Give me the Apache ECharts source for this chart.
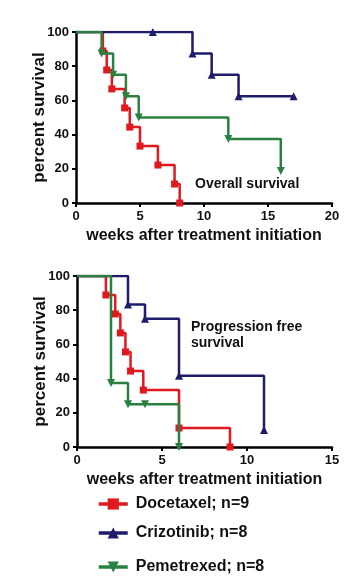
<!DOCTYPE html>
<html>
<head>
<meta charset="utf-8">
<script src="https://cdn.jsdelivr.net/npm/echarts@6/dist/echarts.min.js"></script>
<style>
html,body{margin:0;padding:0;background:#fff;}
#chart{width:350px;height:582px;}
</style>
</head>
<body>
<div id="chart"></div>
<script>
// ---- Data ----
const seriesNames = ['Docetaxel; n=9', 'Crizotinib; n=8', 'Pemetrexed; n=8'];

// Overall survival (top panel)
const osDocetaxelWeeks = [0, 2.1, 2.4, 2.8, 3.8, 4.2, 5.0, 6.4, 7.7, 8.1];
const osDocetaxelPct   = [100, 88.9, 77.8, 66.7, 55.6, 44.4, 33.3, 22.2, 11.1, 0];
const osCrizotinibWeeks = [0, 6.0, 9.1, 10.6, 12.7, 17.0];
const osCrizotinibPct   = [100, 100, 87.5, 75, 62.5, 62.5];
const osPemetrexedWeeks = [0, 2.0, 2.9, 3.9, 4.9, 11.9, 16.0];
const osPemetrexedPct   = [100, 87.5, 75, 62.5, 50, 37.5, 18.75];

// Progression free survival (bottom panel)
const pfsDocetaxelWeeks = [0, 1.7, 2.25, 2.55, 2.85, 3.15, 3.9, 6.0, 9.0];
const pfsDocetaxelPct   = [100, 88.9, 77.8, 66.7, 55.6, 44.4, 33.3, 11.1, 0];
const pfsCrizotinibWeeks = [0, 3.0, 4.0, 6.0, 11.0];
const pfsCrizotinibPct   = [100, 83.3, 75, 41.7, 10];
const pfsPemetrexedWeeks = [0, 2.0, 3.0, 4.0, 6.0];
const pfsPemetrexedPct   = [100, 37.5, 25, 25, 0];

const yTicks = [0, 20, 40, 60, 80, 100];

// ---- Styles ----
const FONT = '"Liberation Sans", Arial, sans-serif';
const colors = ['#e0181f', '#1f1c6b', '#2a8040'];
const symbols = ['rect', 'triangle', 'triangle'];
const symbolRot = [0, 0, 180];
const symbolSizes = [7, 8, 8];

function pts(xs, ys) {
  return xs.map((x, i) => {
    const d = { value: [x, ys[i]] };
    if (i === 0) d.symbol = 'none';
    return d;
  });
}

function mkSeries(idx, xs, ys, gridIdx) {
  return {
    name: seriesNames[idx],
    type: 'line',
    step: 'end',
    xAxisIndex: gridIdx,
    yAxisIndex: gridIdx,
    data: pts(xs, ys),
    symbol: symbols[idx],
    symbolRotate: symbolRot[idx],
    symbolSize: symbolSizes[idx],
    showAllSymbol: true,
    lineStyle: { color: colors[idx], width: 2.5 },
    itemStyle: { color: colors[idx] },
    animation: false,
    z: 2 + idx
  };
}

function xAxis(gridIdx, max) {
  return {
    type: 'value', gridIndex: gridIdx, min: 0, max: max, interval: 5,
    name: 'weeks after treatment initiation',
    nameLocation: 'middle', nameGap: 25, nameMoveOverlap: false,
    nameTextStyle: { fontFamily: FONT, fontWeight: 'bold', fontSize: 16, color: '#111' },
    axisLine: { lineStyle: { color: '#000', width: 2.5 } },
    axisTick: { length: 4, lineStyle: { color: '#000', width: 2 } },
    axisLabel: { fontFamily: FONT, fontWeight: 'bold', fontSize: 13, color: '#111', margin: 7 },
    splitLine: { show: false }
  };
}
function yAxis(gridIdx) {
  return {
    type: 'value', gridIndex: gridIdx, min: yTicks[0], max: yTicks[yTicks.length - 1], interval: 20,
    name: 'percent survival',
    nameLocation: 'middle', nameGap: 28, nameMoveOverlap: false,
    nameTextStyle: { fontFamily: FONT, fontWeight: 'bold', fontSize: 17, color: '#111' },
    axisLine: { show: true, lineStyle: { color: '#000', width: 2.5 } },
    axisTick: { show: true, length: 4, lineStyle: { color: '#000', width: 2 } },
    axisLabel: { fontFamily: FONT, fontWeight: 'bold', fontSize: 13, color: '#111', margin: 7 },
    splitLine: { show: false }
  };
}

function legendRow(name, top) {
  return {
    data: [name],
    left: 92, top: top,
    itemWidth: 29, itemHeight: 14,
    lineStyle: { width: 3.5 },
    textStyle: { fontFamily: FONT, fontWeight: 'bold', fontSize: 16, color: '#111', padding: [0, 0, 0, 3] }
  };
}

const chart = echarts.init(document.getElementById('chart'), null, { renderer: 'canvas' });
chart.setOption({
  backgroundColor: '#fff',
  animation: false,
  grid: [
    { left: 76, right: 18, top: 32, height: 171 },
    { left: 77, right: 18, top: 276, height: 171 }
  ],
  xAxis: [xAxis(0, 20), xAxis(1, 15)],
  yAxis: [yAxis(0), yAxis(1)],
  legend: [
    legendRow(seriesNames[0], 491),
    legendRow(seriesNames[1], 520),
    legendRow(seriesNames[2], 554)
  ],
  graphic: [
    { type: 'text', left: 195, top: 177, style: { text: 'Overall survival', font: 'bold 14px ' + FONT, fill: '#111' } },
    { type: 'text', left: 191, top: 319, style: { text: 'Progression free\nsurvival', font: 'bold 14px ' + FONT, fill: '#111', lineHeight: 16 } }
  ],
  series: [
    mkSeries(1, osCrizotinibWeeks, osCrizotinibPct, 0),
    mkSeries(0, osDocetaxelWeeks, osDocetaxelPct, 0),
    mkSeries(2, osPemetrexedWeeks, osPemetrexedPct, 0),
    mkSeries(1, pfsCrizotinibWeeks, pfsCrizotinibPct, 1),
    mkSeries(0, pfsDocetaxelWeeks, pfsDocetaxelPct, 1),
    mkSeries(2, pfsPemetrexedWeeks, pfsPemetrexedPct, 1)
  ]
});
</script>
</body>
</html>
